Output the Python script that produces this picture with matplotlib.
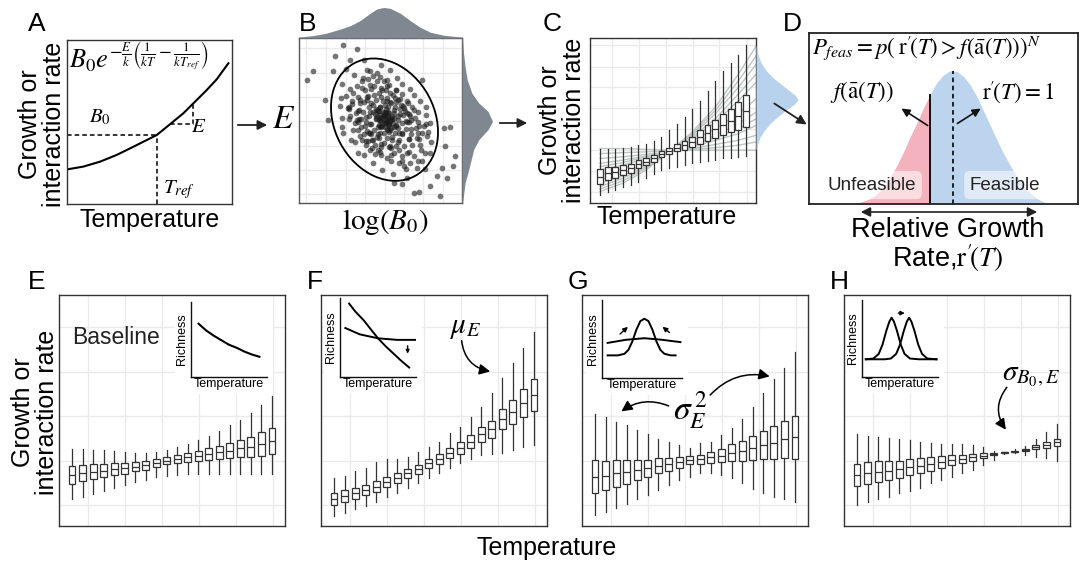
import numpy as np
import matplotlib as mpl
import matplotlib.pyplot as plt
from matplotlib.patches import Ellipse, Rectangle, FancyArrowPatch

mpl.rcParams['font.family'] = ['Liberation Sans', 'DejaVu Sans']
mpl.rcParams['mathtext.fontset'] = 'stix'

# ---------------- data ----------------
# A: thermal performance curve
a_temp = [0, 0.099, 0.2, 0.301, 0.402, 0.503, 0.543, 0.624, 0.705, 0.766, 0.847, 0.907, 0.978]
a_rate = [0.211, 0.228, 0.258, 0.299, 0.349, 0.40, 0.42, 0.486, 0.553, 0.614, 0.695, 0.76, 0.858]

# B: log(B0) vs E cloud
b_logb0 = [244, 264, 291, 302, 323, 330, 346, 344, 360, 370, 390, 400, 426, 450,
           254, 288, 304, 325, 331, 351, 356, 376, 384, 406, 415, 442, 467,
           219, 249, 265, 288, 298, 319, 327, 347, 353, 374, 384, 410, 431,
           265, 287, 315, 328, 349, 356, 375, 383, 407, 417, 443, 467,
           217, 238, 266, 278, 299, 309, 329, 338, 360, 369, 395, 418,
           282, 315, 331, 356, 365, 386, 396, 422, 438, 467,
           215, 237, 266, 281, 302, 311, 333, 347, 376, 396,
           309, 331, 361, 376, 400, 415, 446, 473,
           210, 246, 265, 292, 304, 331, 349, 380,
           334, 361, 395, 416, 451, 483,
           212, 239, 275, 294, 329, 359,
           368, 408, 443, 478, 216, 251, 291, 331, 410, 463, 228, 282,
           112, 130, 165, 195, 220, 262, 455, 520, 540, 555, 548, 510, 430, 445,
           372, 395, 175, 500, 525, 515, 530, 480, 190, 240,
           238, 271, 295, 326, 351, 263, 297, 318, 350, 377,
           261, 289, 320, 343, 377, 274, 308, 329, 361, 388,
           272, 300, 332, 354, 388, 285, 319, 340, 372, 399,
           283, 311, 343, 365, 399, 296, 330, 351, 383, 410,
           294, 322, 354, 376, 410, 307, 341, 362, 394, 421,
           305, 333, 365, 387, 421, 329, 363, 384, 416, 443,
           335, 348, 340, 352, 330, 357, 325, 362, 345, 338, 355, 333, 368, 320, 347,
           360, 328, 365, 350, 342, 336, 358, 326, 352, 344, 318, 370, 330, 372, 314,
           250, 262, 275, 285, 300, 310, 320, 270, 290, 312,
           245, 258, 235, 228, 300, 320, 340, 355, 335, 280,
           360, 375, 350, 392, 405, 420, 435, 430, 412, 445,
           455, 440, 425, 410, 395, 430, 450, 470, 460, 480,
           370, 350, 385, 400, 420, 440, 455, 465, 385, 360,
           340, 325, 300, 310, 270, 255, 240, 275, 300, 395]
b_e = [280, 308, 307, 326, 319, 338, 334, 350, 346, 361, 356, 375, 379, 397,
       273, 275, 297, 297, 317, 312, 328, 323, 339, 337, 358, 362, 379,
       301, 310, 333, 333, 352, 346, 365, 360, 379, 379, 399, 396, 414,
       240, 265, 263, 284, 284, 304, 300, 316, 312, 332, 334, 354,
       319, 342, 341, 364, 364, 384, 378, 395, 393, 413, 417, 433,
       234, 238, 259, 258, 280, 278, 298, 296, 316, 327,
       346, 371, 369, 392, 391, 413, 409, 429, 428, 448,
       210, 233, 235, 260, 260, 282, 283, 304,
       382, 387, 409, 409, 432, 434, 458, 465,
       190, 216, 217, 243, 249, 273,
       405, 431, 436, 463, 469, 490,
       177, 191, 217, 241, 448, 474, 488, 505, 164, 192, 491, 519,
       460, 485, 400, 532, 563, 552, 460, 315, 318, 230, 200, 110, 120, 122,
       150, 148, 340, 170, 260, 195, 165, 140, 485, 520,
       379, 390, 412, 419, 441, 367, 377, 398, 405, 428,
       338, 349, 370, 384, 394, 341, 363, 377, 391, 402,
       317, 328, 349, 363, 373, 320, 342, 356, 370, 381,
       297, 308, 329, 343, 353, 300, 322, 336, 350, 361,
       276, 287, 308, 322, 332, 279, 301, 315, 329, 340,
       255, 266, 287, 301, 311, 244, 254, 274, 282, 299,
       345, 338, 330, 350, 355, 325, 365, 340, 318, 362, 360, 335, 330, 350, 372,
       310, 325, 352, 345, 350, 320, 335, 340, 328, 362, 372, 318, 300, 345, 358,
       420, 440, 455, 430, 445, 470, 455, 400, 398, 440,
       395, 360, 375, 410, 485, 480, 455, 445, 430, 465,
       420, 405, 395, 385, 365, 350, 345, 370, 390, 320,
       300, 285, 265, 240, 232, 230, 265, 290, 320, 330,
       240, 225, 210, 200, 210, 195, 215, 240, 250, 262,
       270, 250, 250, 280, 290, 330, 350, 280, 300, 300]
b_top_x = [87, 130, 170, 210, 240, 270, 300, 320, 340, 360, 390, 420, 450, 480, 520, 575]
b_top_d = [0.03, 0.08, 0.16, 0.29, 0.40, 0.57, 0.81, 0.95, 1.0, 0.97, 0.81, 0.57, 0.35, 0.19, 0.09, 0.03]
b_side_e = [585, 540, 500, 460, 420, 390, 365, 335, 310, 280, 250, 220, 190, 150, 90]
b_side_d = [0.02, 0.05, 0.10, 0.17, 0.32, 0.55, 0.85, 1.0, 0.85, 0.55, 0.38, 0.30, 0.22, 0.10, 0.02]

# C: boxplots of rates across temperatures + individual curves
c_med = [16, 18, 18.5, 20, 21, 23.5, 25, 27, 29.5, 31.5, 33.5, 35, 37, 40, 42.5, 45, 47.5, 50, 53, 56]
c_iqr = [9, 8, 7, 6.5, 5.5, 5, 4.5, 4, 3.5, 3.5, 4.5, 5.5, 6.5, 8, 9.5, 11, 12.5, 14.5, 17, 19.5]
c_lo = [5, 6.5, 8, 9.5, 11, 13, 15, 17.5, 20, 21, 22, 23, 24, 25, 25.5, 26, 27, 27.5, 28, 28.5]
c_hi = [33, 33, 33, 33.5, 34, 35, 36, 37.5, 40, 44, 48, 52, 57, 62, 68, 74, 80, 85, 90, 96]
c_line_t = [1, 4, 7, 10, 13, 16, 19, 21.3]
c_lines = [[7, 12, 20, 31, 43, 58, 78, 95],
           [8.5, 13.5, 21, 31, 42, 56, 74, 89],
           [10, 15, 22, 31, 41, 54, 70, 84],
           [12, 16.5, 23, 31, 40, 51, 66, 78],
           [14, 18, 24, 31, 39, 49, 62, 73],
           [17, 21, 25.5, 31, 37.5, 45, 54, 63],
           [20, 23, 27, 31, 36, 41, 48, 55],
           [22, 24.5, 28, 31, 35, 39.5, 45, 51],
           [24, 26, 28.5, 31, 34, 38, 42, 47],
           [27, 28, 29.5, 31, 33, 35.5, 38, 41],
           [30, 30.5, 31, 31.5, 32.5, 33.5, 35, 37],
           [33, 33, 32.5, 32, 32, 32, 32, 32]]
c_dens_v = [32, 36, 40, 44, 48, 52, 56, 60, 62.5, 65, 68, 72, 76, 80, 84, 88, 92, 96]
c_dens_d = [0, 0.04, 0.1, 0.2, 0.33, 0.5, 0.7, 0.92, 1.0, 0.95, 0.8, 0.6, 0.4, 0.25, 0.14, 0.07, 0.03, 0]

# D: distribution of relative growth rate
d_x = [17.5, 20, 22.5, 25, 27.5, 30, 32.5, 35, 37.5, 40, 42.5, 45, 47.5, 50, 52.5,
       55, 57.5, 60, 62.5, 65, 67.5, 70, 72.5, 75, 77.5, 80, 82.5, 85, 87.5]
d_y = [0.5, 1.5, 3, 5.5, 9.5, 15, 22, 30, 39, 47, 56, 64, 71, 75.5, 78,
       77.5, 74.5, 69.5, 62.5, 54, 45.5, 37, 29, 22, 15.5, 10, 6, 3, 1]
d_threshold = 45
d_mean = 53.5

# E-H: boxplot summaries per scenario
e_med = [22.1, 22.8, 23.5, 24.0, 24.5, 25.0, 25.7, 26.3, 27.1, 28.3, 28.9, 29.7, 30.3, 31.2, 31.9, 32.6, 33.6, 34.3, 35.5, 36.8]
e_iqr = [7.6, 7.0, 6.4, 5.8, 5.2, 4.6, 4.0, 3.8, 3.4, 3.2, 3.4, 3.8, 4.4, 5.2, 5.8, 6.6, 7.6, 8.6, 10.2, 11.6]
e_lo = [11.5, 12.6, 14.0, 15.3, 16.5, 17.8, 19.0, 20.0, 21.0, 21.6, 22.0, 22.3, 22.5, 22.6, 22.6, 22.5, 22.5, 22.4, 22.4, 22.4]
e_hi = [33.3, 33.3, 33.0, 32.8, 32.6, 32.2, 31.8, 31.8, 32.0, 32.9, 34.0, 35.5, 37.2, 39.0, 41.0, 43.7, 46.0, 49.0, 52.5, 56.3]

f_med = [11.7, 13.0, 14.1, 15.6, 17.0, 19.2, 20.6, 22.8, 24.5, 27.1, 29.0, 31.5, 33.6, 36.5, 39.7, 41.8, 46.2, 49.5, 53.1, 56.7]
f_iqr = [4.9, 4.9, 4.6, 4.6, 4.6, 4.3, 4.3, 4.0, 4.0, 4.0, 4.0, 4.3, 5.2, 5.8, 6.6, 7.5, 8.7, 10.4, 12.1, 13.6]
f_lo = [4.3, 5.5, 7.2, 8.7, 10.5, 12.4, 14.1, 16.3, 18.8, 20.6, 22.8, 25.0, 27.1, 29.0, 30.7, 31.2, 31.7, 32.9, 34.3, 35.1]
f_hi = [20.6, 21.6, 23.8, 25.0, 27.8, 28.9, 29.0, 30.0, 32.2, 34.3, 36.5, 40.1, 43.0, 47.3, 51.7, 57.4, 63.9, 70.4, 76.9, 84.1]

g_med = [21.4, 21.8, 22.8, 23.5, 24.2, 25.0, 26.0, 26.7, 27.6, 28.6, 29.0, 29.7, 30.4, 31.7, 32.6, 33.6, 35.1, 36.1, 37.5, 38.4]
g_iqr = [14.0, 12.7, 11.5, 10.4, 8.9, 7.5, 6.5, 5.5, 4.6, 3.6, 3.9, 4.6, 5.8, 7.2, 8.7, 10.4, 12.3, 14.4, 16.2, 18.8]
g_lo = [4.8, 6.2, 7.6, 9.5, 11.5, 13.4, 15.6, 17.7, 19.9, 21.4, 22.8, 22.8, 22.1, 20.6, 18.5, 15.9, 14.1, 12.4, 11.5, 10.5]
g_hi = [48.5, 47.0, 45.2, 43.7, 41.6, 39.7, 37.7, 36.5, 35.1, 33.6, 35.8, 36.5, 39.4, 42.3, 46.2, 51.7, 57.7, 63.5, 68.5, 75.5]

h_med = [22.1, 22.8, 23.5, 24.0, 24.5, 25.4, 26.1, 26.8, 27.8, 28.6, 29.0, 29.7, 30.4, 31.2, 31.9, 32.2, 32.9, 34.1, 35.1, 36.2]
h_iqr = [9.8, 9.4, 8.9, 8.4, 7.5, 6.9, 6.3, 5.8, 5.1, 4.3, 3.8, 2.9, 2.0, 1.2, 0.6, 0.4, 0.9, 1.7, 2.5, 3.2]
h_lo = [9.1, 10.2, 11.5, 12.7, 14.1, 15.3, 16.6, 18.5, 19.9, 21.4, 22.8, 24.2, 26.4, 28.6, 31.2, 31.5, 30.7, 30.0, 29.3, 28.3]
h_hi = [39.8, 39.1, 38.7, 38.2, 37.7, 37.1, 36.5, 35.8, 35.5, 35.5, 35.5, 35.1, 34.3, 32.6, 32.2, 33.2, 34.6, 37.5, 40.8, 44.2]

# insets: richness vs temperature sketches
e_ins_x = [0.1, 0.2, 0.3, 0.4, 0.5, 0.6, 0.7, 0.8, 0.9]
e_ins_y = [0.71, 0.62, 0.55, 0.49, 0.43, 0.39, 0.34, 0.30, 0.27]
f_ins_x1 = [0.12, 0.2, 0.31, 0.4, 0.5, 0.6, 0.7, 0.8, 0.91]
f_ins_y1 = [0.93, 0.83, 0.72, 0.61, 0.49, 0.39, 0.30, 0.21, 0.12]
f_ins_x2 = [0.07, 0.26, 0.5, 0.75, 0.99]
f_ins_y2 = [0.62, 0.54, 0.49, 0.47, 0.47]
g_ins_x1 = [0.07, 0.2, 0.28, 0.33, 0.38, 0.43, 0.48, 0.53, 0.58, 0.63, 0.68, 0.73, 0.78, 0.86, 0.92]
g_ins_y1 = [0.29, 0.29, 0.31, 0.36, 0.47, 0.62, 0.73, 0.76, 0.73, 0.62, 0.47, 0.36, 0.31, 0.29, 0.29]
g_ins_x2 = [0.07, 0.3, 0.53, 0.75, 0.98]
g_ins_y2 = [0.45, 0.49, 0.51, 0.49, 0.46]
h_ins_x1 = [0.05, 0.15, 0.22, 0.27, 0.32, 0.36, 0.39, 0.42, 0.46, 0.51, 0.56, 0.63, 0.75, 0.98]
h_ins_y1 = [0.23, 0.24, 0.30, 0.42, 0.60, 0.72, 0.77, 0.72, 0.60, 0.42, 0.30, 0.24, 0.23, 0.23]
h_ins_x2 = [0.05, 0.3, 0.38, 0.45, 0.5, 0.55, 0.59, 0.62, 0.65, 0.69, 0.74, 0.79, 0.86, 0.98]
h_ins_y2 = [0.23, 0.23, 0.24, 0.30, 0.42, 0.60, 0.72, 0.77, 0.72, 0.60, 0.42, 0.30, 0.24, 0.23]

# ---------------- figure ----------------
W, H = 1089, 565
fig = plt.figure(figsize=(W / 100, H / 100), dpi=100)
INK = '#333333'
GRID = '#ebebeb'


def add_px(x0, y0, x1, y1):
    return fig.add_axes([x0 / W, 1 - y1 / H, (x1 - x0) / W, (y1 - y0) / H])


def ftext(x, y, s, **kw):
    kw.setdefault('ha', 'center')
    kw.setdefault('va', 'center')
    return fig.text(x / W, 1 - y / H, s, **kw)


def farrow(p0, p1, style='-|>', lw=1.3):
    arr = FancyArrowPatch((p0[0] / W, 1 - p0[1] / H), (p1[0] / W, 1 - p1[1] / H),
                          transform=fig.transFigure, arrowstyle=style,
                          mutation_scale=14, color='#222222', lw=lw)
    fig.add_artist(arr)


def frame(ax, xg=None, yg=None, color=INK):
    ax.set_xticks(xg if xg is not None else [])
    ax.set_yticks(yg if yg is not None else [])
    ax.tick_params(length=0, labelbottom=False, labelleft=False)
    if xg is not None:
        ax.grid(True, color=GRID, lw=1)
        ax.set_axisbelow(True)
    for s in ax.spines.values():
        s.set_color(color)
        s.set_linewidth(1)


def boxes(ax, med, iqr, lo, hi, width):
    stats = [dict(med=m, q1=m - r / 2, q3=m + r / 2, whislo=l, whishi=h)
             for m, r, l, h in zip(med, iqr, lo, hi)]
    ax.bxp(stats, positions=range(1, len(stats) + 1), widths=width,
           patch_artist=True, showcaps=False, showfliers=False, manage_ticks=False,
           boxprops=dict(facecolor='white', edgecolor=INK, lw=0.9),
           medianprops=dict(color=INK, lw=0.9),
           whiskerprops=dict(color=INK, lw=0.9), zorder=3)


def inset(parent, box):
    x0, y0, x1, y1 = box
    parent.add_patch(Rectangle(((x0 - 16) / W, 1 - (y1 + 17) / H), (x1 - x0 + 22) / W,
                               (y1 - y0 + 25) / H, transform=fig.transFigure,
                               facecolor='white', edgecolor='none', zorder=1))
    ins = add_px(x0, y0, x1, y1)
    ins.set_xlim(0, 1)
    ins.set_ylim(0, 1)
    ins.set_xticks([])
    ins.set_yticks([])
    ins.patch.set_alpha(0)
    for s in ['top', 'right']:
        ins.spines[s].set_visible(False)
    for s in ['left', 'bottom']:
        ins.spines[s].set_color('#111111')
        ins.spines[s].set_linewidth(1)
    ins.set_ylabel('Richness', fontsize=9, labelpad=2)
    ins.set_xlabel('Temperature', fontsize=9, labelpad=1)
    return ins


# ---- panel A ----
ax_a = add_px(67, 40, 232, 204)
ax_a.set_xlim(0, 1)
ax_a.set_ylim(0, 1)
frame(ax_a)
ax_a.plot(a_temp, a_rate, color='black', lw=1.5)
ax_a.plot([0, a_temp[6]], [a_rate[6], a_rate[6]], 'k--', lw=1.1, dashes=(3, 2))
ax_a.plot([a_temp[6], a_temp[6]], [0, a_rate[6]], 'k--', lw=1.1, dashes=(3, 2))
ax_a.plot([a_temp[7], a_temp[9], a_temp[9]], [a_rate[7], a_rate[7], a_rate[9]],
          'k--', lw=1.1, dashes=(3, 2))
ax_a.text(0.2, 0.53, '$B_0$', fontsize=15, ha='center', va='center')
ax_a.text(0.8, 0.47, '$E$', fontsize=15, ha='center', va='center')
ax_a.text(0.68, 0.09, '$T_{ref}$', fontsize=15, ha='center', va='center')
ax_a.text(0.01, 0.995, r'$B_0e^{-\frac{E}{k}\left(\frac{1}{kT}-\frac{1}{kT_{ref}}\right)}$',
          fontsize=19, ha='left', va='top', transform=ax_a.transAxes)
ftext(42, 124, 'Growth or\ninteraction rate', fontsize=18, rotation=90, linespacing=1.05)
ftext(150, 220, 'Temperature', fontsize=18)

# ---- panel B ----
ax_b = add_px(299, 38, 462, 203)
ax_b.set_xlim(87, 575)
ax_b.set_ylim(90, 585)
frame(ax_b, [108, 167, 228, 285, 345, 400, 458, 518], [118, 190, 262, 335, 408, 480, 555], color='#555555')
ax_b.scatter(b_logb0, b_e, s=17, color='#1a1a1a', alpha=0.6, linewidths=0, zorder=2)
ax_b.add_patch(Ellipse((343, 340), 384, 300, angle=-62, fill=False, ec='black', lw=1.3, zorder=3))

ax_bt = add_px(299, 5, 462, 38)
ax_bt.fill_between(b_top_x, 0, b_top_d, color='#7f8891', lw=0)
ax_bt.set_xlim(87, 575)
ax_bt.set_ylim(0, 1.08)
ax_bt.axis('off')
ax_bs = add_px(462, 38, 495, 203)
ax_bs.fill_betweenx(b_side_e, 0, b_side_d, color='#7f8891', lw=0)
ax_bs.set_ylim(90, 585)
ax_bs.set_xlim(0, 1.08)
ax_bs.axis('off')
ftext(284, 119, '$E$', fontsize=24)
ftext(385, 222, r'$\log(B_0)$', fontsize=21)

# ---- panel C ----
ax_c = add_px(590, 38, 756, 203)
ax_c.set_xlim(-0.3, 21.3)
ax_c.set_ylim(0, 100)
frame(ax_c, [2.56, 6.07, 9.6, 13.1, 16.5, 20.1], [6.9, 19.6, 32.1, 44.6, 57.4, 70.1, 82.6, 95.8])
for ln in c_lines:
    ax_c.plot(c_line_t, ln, color='#bcc6c2', lw=1, zorder=2)
boxes(ax_c, c_med, c_iqr, c_lo, c_hi, 0.75)
ax_cd = add_px(756, 38, 800, 203)
ax_cd.fill_betweenx(c_dens_v, 0, c_dens_d, color='#b8d2ee', lw=0)
ax_cd.set_ylim(0, 100)
ax_cd.set_xlim(0, 1.05)
ax_cd.axis('off')
ftext(562, 120, 'Growth or\ninteraction rate', fontsize=18, rotation=90, linespacing=1.05)
ftext(667, 217, 'Temperature', fontsize=18)

# ---- panel D ----
ax_d = add_px(809, 33, 1078, 204)
ax_d.set_xlim(0, 100)
ax_d.set_ylim(0, 100)
frame(ax_d, color='#222222')
for s in ax_d.spines.values():
    s.set_linewidth(1.3)
dx = np.array(d_x)
dy = np.array(d_y)
left = dx <= d_threshold
right = dx >= d_threshold
ax_d.fill_between(dx[left], 0, dy[left], color='#f4b2be', lw=0)
ax_d.fill_between(dx[right], 0, dy[right], color='#bcd4ee', lw=0)
ax_d.plot([d_threshold, d_threshold], [0, dy[dx == d_threshold][0]], color='#111111', lw=1.4)
ax_d.plot([d_mean, d_mean], [0, 78], color='#111111', lw=1.3, ls=(0, (2.5, 2)))
ax_d.text(0.012, 0.915, r"$P_{feas} = p(\;\mathrm{r}'\!(T) > f(\bar{\mathrm{a}}(T)))^N$",
          fontsize=16.5, ha='left', va='center', transform=ax_d.transAxes)
ax_d.text(19.7, 65.5, r'$f(\bar{\mathrm{a}}(T))$', fontsize=16.5, ha='center', va='center')
ax_d.text(77.7, 65.5, r"$\mathrm{r}'\!(T) = 1$", fontsize=16.5, ha='center', va='center')
ax_d.annotate('', xy=(33.5, 56.7), xytext=(45, 45),
              arrowprops=dict(arrowstyle='-|>', color='#111111', lw=1.2, mutation_scale=12))
ax_d.annotate('', xy=(64.7, 56.7), xytext=(54.3, 46.2),
              arrowprops=dict(arrowstyle='-|>', color='#111111', lw=1.2, mutation_scale=12))
pill = dict(boxstyle='round,pad=0.3', fc='white', ec='none', alpha=0.55)
ax_d.text(23.4, 11.1, 'Unfeasible', fontsize=13.5, ha='center', va='center', color='#222222', bbox=pill)
ax_d.text(72.9, 11.1, 'Feasible', fontsize=13.5, ha='center', va='center', color='#222222', bbox=pill)
farrow((858, 212), (1040, 212), style='<|-|>', lw=1.2)
ftext(948, 230, 'Relative Growth', fontsize=19.5)
ftext(948, 258, r"Rate,$\mathrm{r}'\!(T)$", fontsize=19.5)

# ---- panels E-H ----
bottom = {'E': (59, e_med, e_iqr, e_lo, e_hi),
          'F': (321, f_med, f_iqr, f_lo, f_hi),
          'G': (582, g_med, g_iqr, g_lo, g_hi),
          'H': (844, h_med, h_iqr, h_lo, h_hi)}
axs = {}
for key, (x0, med, iqr, lo, hi) in bottom.items():
    ax = add_px(x0, 295, x0 + 226, 526)
    ax.set_xlim(-0.24, 21.24)
    ax.set_ylim(0, 100)
    frame(ax, [2.52, 6.05, 9.57, 13.1, 16.6, 20.1], [9.1, 28.1, 47.6, 66.7, 86.1])
    boxes(ax, med, iqr, lo, hi, 0.65)
    axs[key] = ax

ins = inset(axs['E'], (191, 302, 267, 377))
ins.plot(e_ins_x, e_ins_y, color='black', lw=1.5)
ftext(116, 337, 'Baseline', fontsize=16.5, color='#222222')

ins = inset(axs['F'], (340, 298, 416, 377))
ins.plot(f_ins_x1, f_ins_y1, color='black', lw=1.4)
ins.plot(f_ins_x2, f_ins_y2, color='black', lw=1.4)
ins.annotate('', xy=(0.89, 0.26), xytext=(0.89, 0.43),
             arrowprops=dict(arrowstyle='-|>', color='black', lw=1, mutation_scale=5))
ax = axs['F']
ax.text(13.5, 86.1, r'$\mu_E$', fontsize=21, ha='center', va='center')
ax.annotate('', xy=(16.1, 66.7), xytext=(13.1, 81.4),
            arrowprops=dict(arrowstyle='-|>', color='black', lw=1.1, mutation_scale=16,
                            connectionstyle='arc3,rad=0.4'))

ins = inset(axs['G'], (602, 300, 682, 378))
ins.plot(g_ins_x1, g_ins_y1, color='black', lw=1.4)
ins.plot(g_ins_x2, g_ins_y2, color='black', lw=1.4)
ins.annotate('', xy=(0.35, 0.68), xytext=(0.2, 0.54),
             arrowprops=dict(arrowstyle='-|>', color='black', lw=1, mutation_scale=7))
ins.annotate('', xy=(0.73, 0.68), xytext=(0.87, 0.56),
             arrowprops=dict(arrowstyle='-|>', color='black', lw=1, mutation_scale=7))
ax = axs['G']
ax.text(10.1, 50.2, r'$\sigma_E^{\,2}$', fontsize=24, ha='center', va='center')
ax.annotate('', xy=(3.29, 48.9), xytext=(8.24, 51.5),
            arrowprops=dict(arrowstyle='-|>', color='black', lw=1.1, mutation_scale=16,
                            connectionstyle='arc3,rad=0.3'))
ax.annotate('', xy=(17.86, 64.5), xytext=(11.76, 55.8),
            arrowprops=dict(arrowstyle='-|>', color='black', lw=1.1, mutation_scale=16,
                            connectionstyle='arc3,rad=-0.3'))

ins = inset(axs['H'], (862, 300, 938, 377))
ins.plot(h_ins_x1, h_ins_y1, color='black', lw=1.4)
ins.plot(h_ins_x2, h_ins_y2, color='black', lw=1.4)
ins.annotate('', xy=(0.6, 0.83), xytext=(0.44, 0.83),
             arrowprops=dict(arrowstyle='-|>', color='black', lw=1, mutation_scale=6))
ax = axs['H']
ax.text(17.5, 65.4, r'$\sigma_{B_0,E}$', fontsize=21, ha='center', va='center')
ax.annotate('', xy=(15.3, 40.7), xytext=(15.4, 61),
            arrowprops=dict(arrowstyle='-|>', color='black', lw=1.1, mutation_scale=16,
                            connectionstyle='arc3,rad=0.4'))

ftext(35, 412, 'Growth or\ninteraction rate', fontsize=18, rotation=90, linespacing=1.05)
ftext(547, 548, 'Temperature', fontsize=18)

# ---- panel letters and connecting arrows ----
for letter, (x, y) in {'A': (37, 24), 'B': (308, 24), 'C': (552, 24), 'D': (792, 24),
                       'E': (37, 282), 'F': (315, 282), 'G': (578, 282), 'H': (839, 282)}.items():
    ftext(x, y, letter, fontsize=19)
farrow((235, 125), (270, 125))
farrow((497, 123), (530, 123))
farrow((772, 102), (809, 126))

fig.savefig('out.png', dpi=100)
